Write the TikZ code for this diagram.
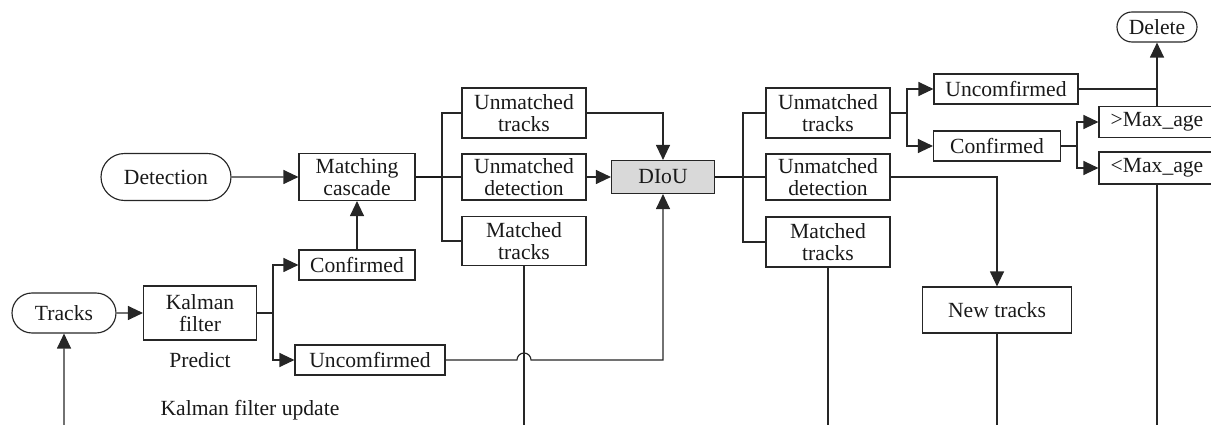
\documentclass[tikz,border=0pt]{standalone}
\usepackage{fontspec}
\setmainfont{Liberation Serif}
\usetikzlibrary{arrows.meta,shapes.misc}
\begin{document}
\begin{tikzpicture}[x=0.02cm,y=-0.02cm,
  every node/.style={font=\fontsize{12.3}{12.8}\selectfont, text=black!90},
  line/.style={draw=black!85, line width=0.65pt},
  thick line/.style={draw=black!90, line width=1pt},
  arr/.style={line, -{Triangle[length=0.3cm,width=0.28cm]}},
  box/.style={draw=black!85, line width=0.65pt, rectangle, inner sep=0pt, align=center},
  term/.style={draw=black!85, line width=0.65pt, rounded rectangle, inner sep=0pt, align=center},
  lbl/.style={inner sep=0pt}
]
\useasboundingbox (0,0) rectangle (1211,425);
\clip (0,0) rectangle (1211,425);
% left part
\node[term, minimum width=2.6cm, minimum height=0.94cm] (det) at (166,177) {Detection};
\node[box, minimum width=2.32cm, minimum height=0.94cm] (mc) at (357,177) {Matching\\cascade};
\node[box, minimum width=2.32cm, minimum height=0.6cm] (conf1) at (357,265) {Confirmed};
\node[term, minimum width=2.08cm, minimum height=0.8cm] (tracks) at (64,313) {Tracks};
\node[box, minimum width=2.26cm, minimum height=1.08cm] (kf) at (200,313) {Kalman\\filter};
\node[lbl] (pred) at (200,360) {Predict};
\node[box, minimum width=3.0cm, minimum height=0.6cm] (unc1) at (370,360) {Uncomfirmed};
\node[lbl] (kfu) at (250,410) {Kalman filter update};
% middle
\node[box, minimum width=2.48cm, minimum height=1.0cm] (ut1) at (524,113) {Unmatched\\tracks};
\node[box, minimum width=2.48cm, minimum height=0.92cm] (ud1) at (524,177) {Unmatched\\detection};
\node[box, minimum width=2.48cm, minimum height=0.98cm] (mt1) at (524,241) {Matched\\tracks};
\node[box, fill=black!15, minimum width=2.06cm, minimum height=0.66cm] (diou) at (663,177) {DIoU};
% right
\node[box, minimum width=2.48cm, minimum height=1.0cm] (ut2) at (828,113) {Unmatched\\tracks};
\node[box, minimum width=2.48cm, minimum height=0.92cm] (ud2) at (828,177) {Unmatched\\detection};
\node[box, minimum width=2.48cm, minimum height=1.0cm] (mt2) at (828,242) {Matched\\tracks};
\node[box, minimum width=2.98cm, minimum height=0.92cm] (nt) at (997,310) {New tracks};
\node[box, minimum width=2.88cm, minimum height=0.6cm] (unc2) at (1006,89) {Uncomfirmed};
\node[box, minimum width=2.54cm, minimum height=0.6cm] (conf2) at (997,146) {Confirmed};
\node[box, minimum width=2.32cm, minimum height=0.62cm] (gt) at (1157,122) {>Max\_age};
\node[box, minimum width=2.32cm, minimum height=0.64cm] (lt) at (1157,168) {<Max\_age};
\node[term, minimum width=1.6cm, minimum height=0.6cm] (del) at (1157,27) {Delete};
% coordinates
\coordinate (b0) at (64,425);
\coordinate (b1) at (524,425);
\coordinate (b2) at (828,425);
\coordinate (b3) at (997,425);
\coordinate (b4) at (1157,425);
\coordinate (s1) at (273,313);
\coordinate (s2) at (442,177);
\coordinate (s3) at (743,177);
\coordinate (s4) at (907,113);
\coordinate (s5) at (1077,146);
% connectors
\draw[arr] (det) -- (mc);
\draw[arr] (conf1) -- (mc);
\draw[arr] (tracks) -- (kf);
\draw[arr] (b0) -- (tracks);
\draw[line] (kf.east) -- (s1);
\draw[arr] (s1) |- (conf1.west);
\draw[arr] (s1) |- (unc1.west);
\draw[thick line] (mc.east) -- (s2);
\draw[line] (s2) |- (ut1.west);
\draw[line] (s2) |- (ud1.west);
\draw[line] (s2) |- (mt1.west);
\draw[arr] (ut1.east) -| (diou.north);
\draw[arr] (ud1) -- (diou);
\draw[arr] (unc1.east) -- (517,360) arc[start angle=180,end angle=0,radius=0.14cm] -- (663,360) -- (diou.south);
\draw[line] (mt1.south) -- (b1);
\draw[thick line] (diou.east) -- (s3);
\draw[line] (s3) |- (ut2.west);
\draw[line] (s3) |- (ud2.west);
\draw[line] (s3) |- (mt2.west);
\draw[line] (ut2.east) -- (s4);
\draw[arr] (s4) |- (unc2.west);
\draw[arr] (s4) |- (conf2.west);
\draw[line] (conf2.east) -- (s5);
\draw[arr] (s5) |- (gt.west);
\draw[arr] (s5) |- (lt.west);
\draw[line] (unc2.east) -- (gt.north |- unc2.east);
\draw[arr] (gt.north) -- (del.south);
\draw[arr] (ud2.east) -| (nt.north);
\draw[line] (mt2.south) -- (b2);
\draw[line] (nt.south) -- (b3);
\draw[line] (lt.south) -- (b4);
\end{tikzpicture}
\end{document}
